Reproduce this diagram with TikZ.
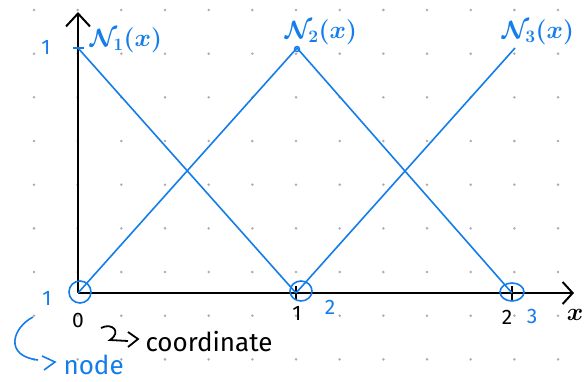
\RequirePackage{fix-cm}
\documentclass[tikz,border=0pt]{standalone}
\usepackage{fontspec}
\setmainfont{Fira Sans}
\usetikzlibrary{arrows.meta}
\definecolor{pen}{RGB}{20,125,235}
\begin{document}
\begin{tikzpicture}[x=1pt,y=-1pt,
  axis/.style={line width=2pt,black},
  fn/.style={line width=1.6pt,pen},
  ring/.style={draw=pen,line width=1.6pt},
  bl/.style={text=pen,font=\fontsize{21}{21}\selectfont},
  bk/.style={text=black,font=\fontsize{21}{21}\selectfont},
  big/.style={text=pen,font=\fontsize{25}{25}\selectfont\boldmath}]
\useasboundingbox (0,0) rectangle (587,381);
\fill[white] (0,0) rectangle (587,381);
% dot grid
\foreach \i in {0,...,12}{
  \foreach \j in {0,...,8}{
    \fill[black!32] ({34+43.67*\i},{10+43.67*\j}) circle (1.4);
  }
}
% points
\coordinate (o) at (78,293);
\coordinate (p2) at (296,293);
\coordinate (p3) at (512,293);
\coordinate (t1) at (78,48);
\coordinate (t2) at (297,48);
\coordinate (t3) at (515,48);
\coordinate (ytop) at (78,12);
\coordinate (xend) at (574,293);
% axes
\draw[axis,-{Straight Barb[length=13pt,width=24pt,line width=2pt]}] (o) -- (ytop);
\draw[axis,-{Straight Barb[length=10pt,width=22pt,line width=2pt]}] (o) -- (xend);
\draw[axis] (296,286) -- (296,300);
\draw[axis] (512,286) -- (512,300);
% shape functions
\draw[fn] (t1) -- (p2);
\draw[fn] (o) -- (t2) -- (p3);
\draw[fn] (p2) -- (t3);
\draw[line width=2.6pt,pen] (73,48) -- (84,48);
\draw[pen,line width=1.4pt] (297,49) circle (2.5);
% node rings
\draw[ring] (80,292) ellipse (11 and 11);
\draw[ring] (301,291) ellipse (11 and 10);
\draw[ring] (512,292) ellipse (12 and 9);
% labels
\node[bl] (l1) at (46,47) {1};
\node[big] (n1) at (126,40) {$\mathcal{N}_1(x)$};
\node[big] (n2) at (321,32) {$\mathcal{N}_2(x)$};
\node[big] (n3) at (538,32) {$\mathcal{N}_3(x)$};
\node[bl] (k1) at (47,298) {1};
\node[bl] (k2) at (330,307) {2};
\node[bl] (k3) at (532,316) {3};
\node[bk] (c0) at (78,320) {0};
\node[bk] (c1) at (297,313) {1};
\node[bk] (c2) at (507,317) {2};
\node[bk,font=\fontsize{25}{25}\selectfont\boldmath] (cx) at (575,315) {$x$};
% coordinate annotation
\coordinate (s0) at (101,328);
\coordinate (s1) at (128,341);
\draw[line width=1.8pt,black] (s0) .. controls (112,322) and (122,332) .. (110,340) -- (s1);
\draw[line width=1.8pt,black] (128,332) -- (138,339) -- (128,347);
\node[bk,anchor=west,font=\fontsize{26}{26}\selectfont] (coord) at (142,342) {coordinate};
% node annotation
\coordinate (h0) at (33,317);
\coordinate (h1) at (38,360);
\draw[line width=1.6pt,pen] (h0) .. controls (12,328) and (4,356) .. (h1);
\draw[line width=1.6pt,pen] (42,356) -- (55,362) -- (44,370);
\node[big,anchor=west,font=\fontsize{26}{26}\selectfont] (nd) at (60,365) {node};
\end{tikzpicture}
\end{document}
